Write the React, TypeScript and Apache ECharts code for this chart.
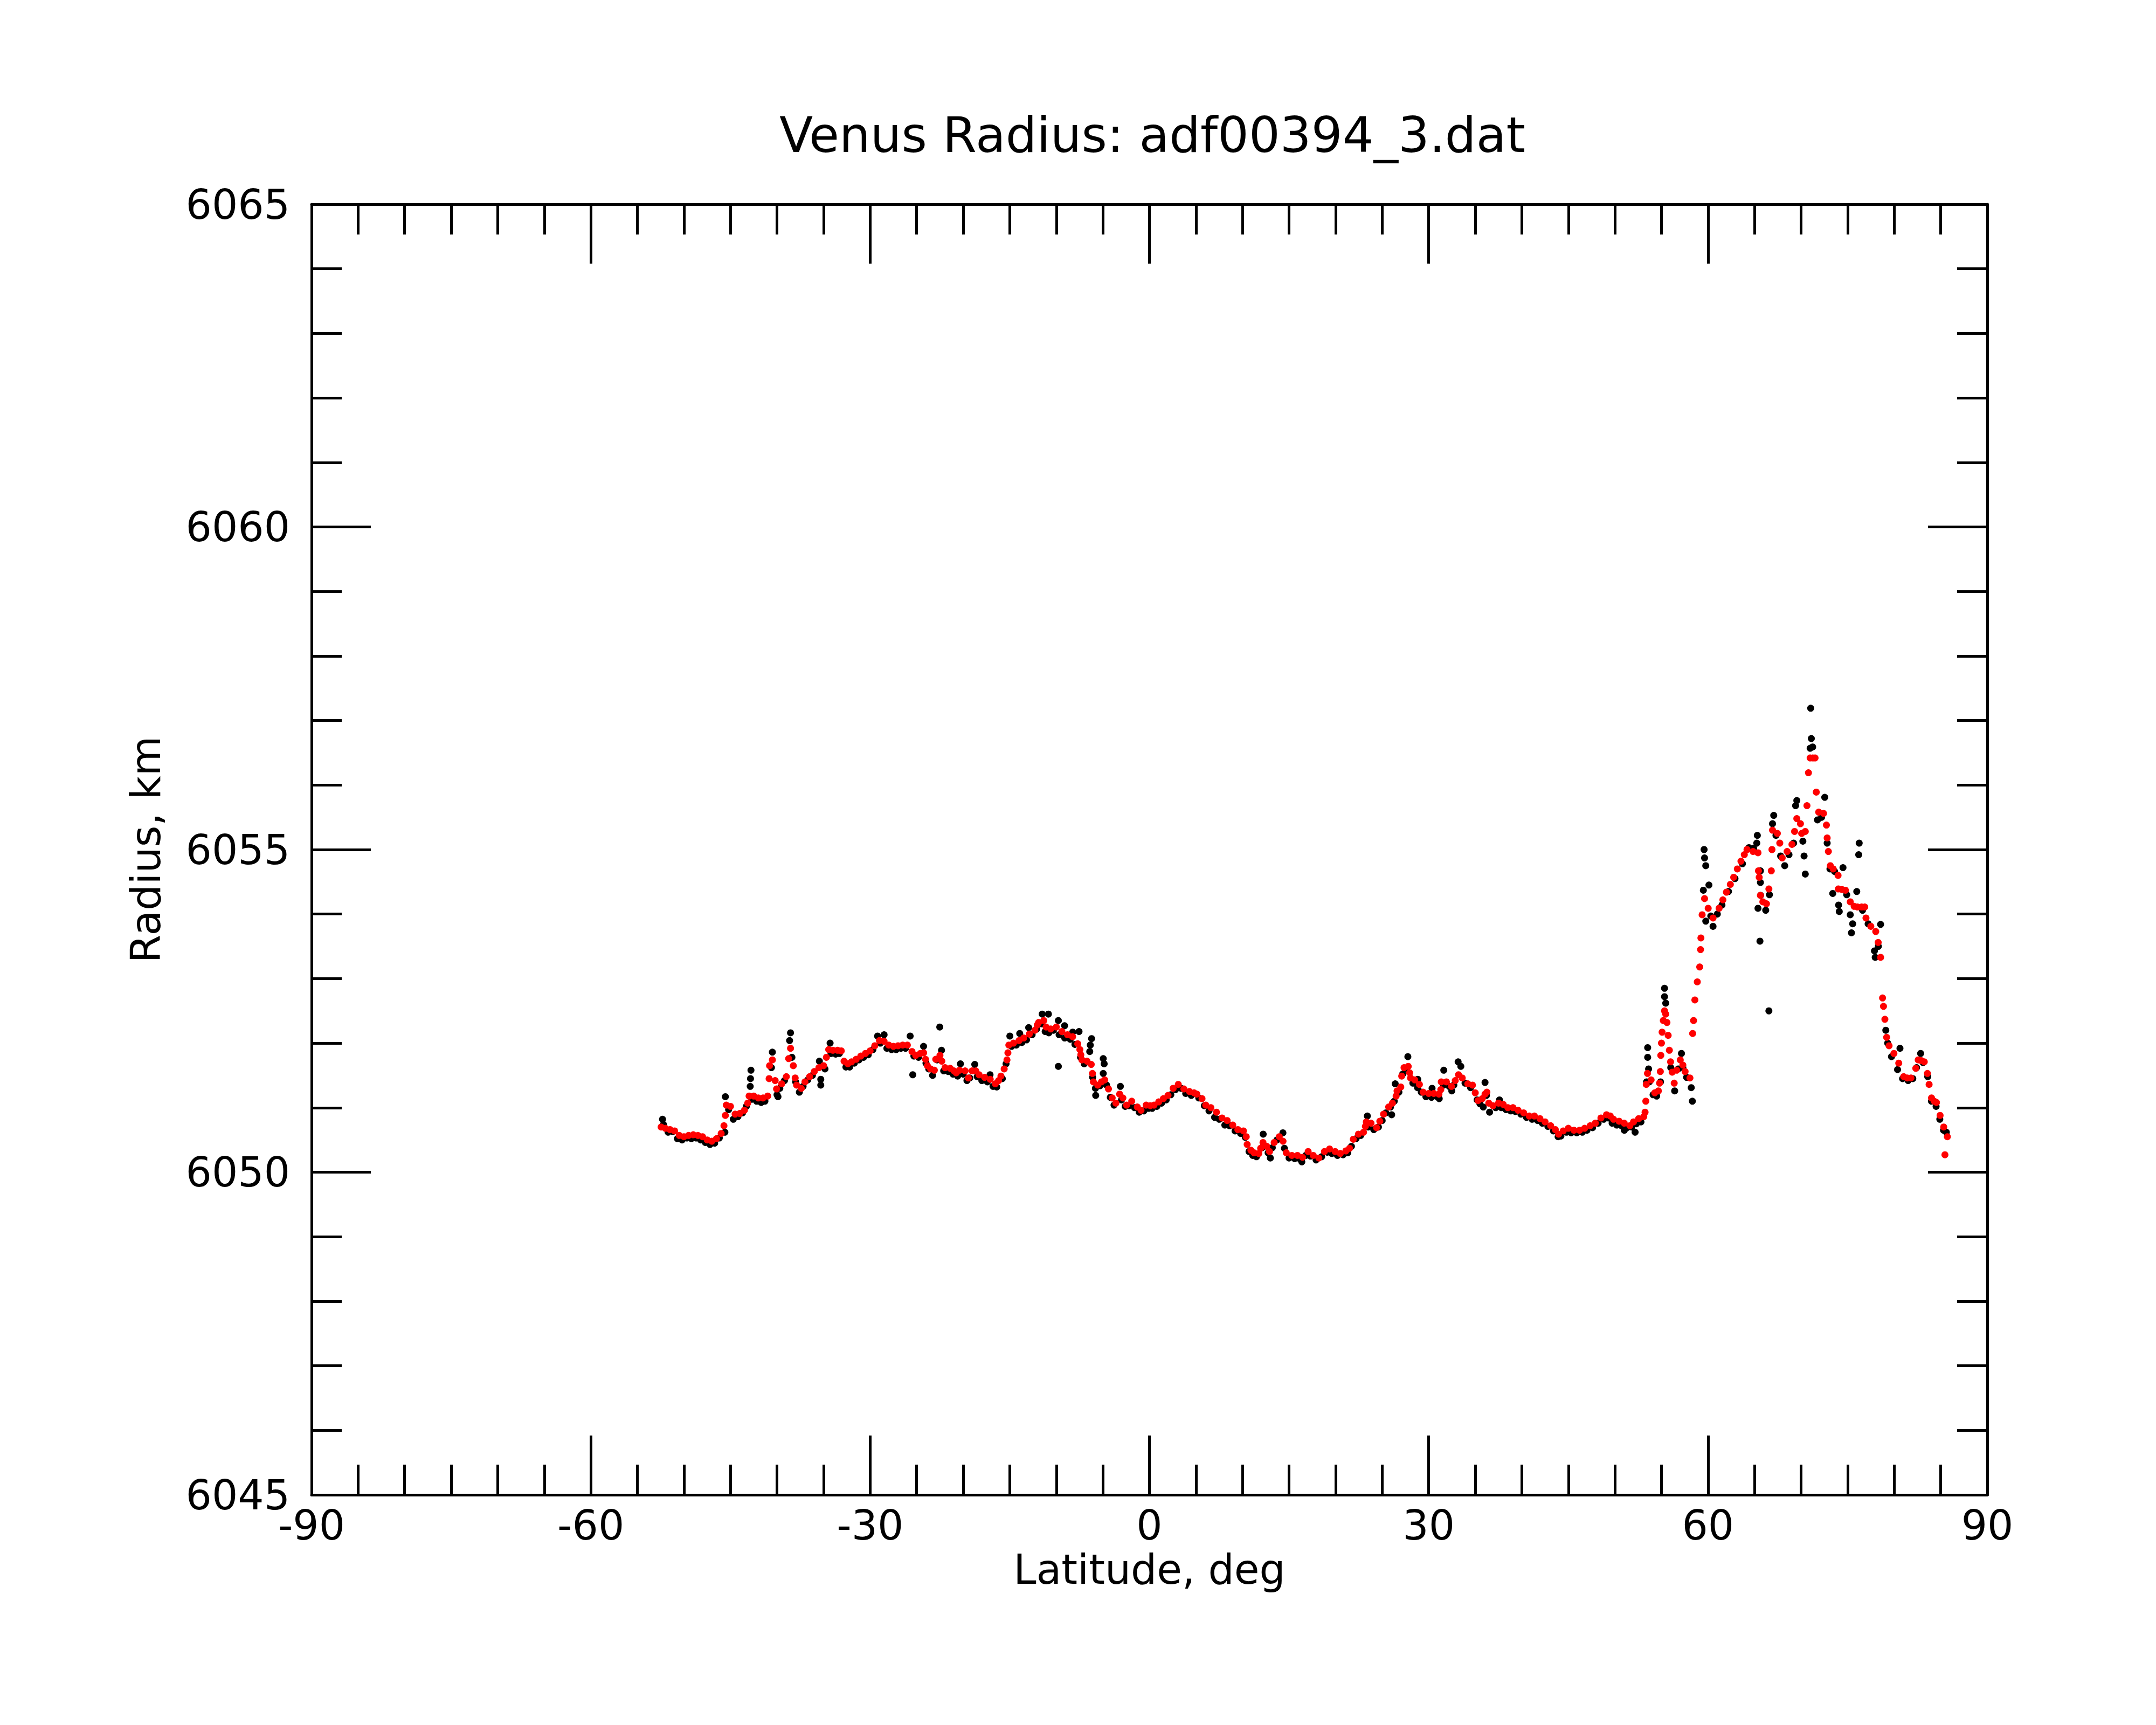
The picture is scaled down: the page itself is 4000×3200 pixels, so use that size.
import React, { useEffect, useRef } from "react";
import * as echarts from "echarts";

// ---- Data: [latitude (deg), radius (km)] ----
const TITLE = "Venus Radius: adf00394_3.dat";
const X_NAME = "Latitude, deg";
const Y_NAME = "Radius, km";
const X_TICKS = [-90, -60, -30, 0, 30, 60, 90];
const Y_TICKS = [6045, 6050, 6055, 6060, 6065];

const RED_SOUTH: number[][] = [
  [-52.45, 6050.70], [-52.0, 6050.68], [-51.5, 6050.66], [-51.0, 6050.64], [-50.5, 6050.57], [-50.0, 6050.55],
  [-49.5, 6050.57], [-49.0, 6050.58], [-48.5, 6050.57], [-48.0, 6050.55], [-47.5, 6050.50], [-47.0, 6050.48],
  [-46.5, 6050.52], [-46.0, 6050.60], [-45.7, 6050.72], [-45.55, 6050.88], [-45.45, 6051.04], [-45.0, 6051.02],
  [-44.5, 6050.90], [-44.0, 6050.91], [-43.5, 6050.96], [-43.15, 6051.07], [-43.0, 6051.18], [-42.5, 6051.18],
  [-42.0, 6051.15], [-41.5, 6051.15], [-41.0, 6051.18], [-40.85, 6051.45], [-40.8, 6051.65], [-40.5, 6051.74],
  [-40.2, 6051.42], [-40.05, 6051.29], [-39.5, 6051.37], [-39.0, 6051.48], [-38.75, 6051.76], [-38.55, 6051.92],
  [-38.25, 6051.65], [-38.05, 6051.46], [-37.9, 6051.35], [-37.4, 6051.30], [-37.0, 6051.40], [-36.5, 6051.48],
  [-36.0, 6051.56], [-35.5, 6051.62], [-35.0, 6051.65], [-34.7, 6051.78], [-34.45, 6051.90], [-34.0, 6051.89],
  [-33.5, 6051.89], [-33.1, 6051.88], [-32.8, 6051.72], [-32.4, 6051.68], [-32.0, 6051.71], [-31.5, 6051.75],
  [-31.0, 6051.80], [-30.5, 6051.84], [-30.0, 6051.88], [-29.5, 6051.96], [-29.0, 6052.04], [-28.5, 6052.03],
  [-28.0, 6051.97], [-27.5, 6051.95], [-27.0, 6051.96], [-26.5, 6051.97], [-26.0, 6051.97], [-25.5, 6051.87],
  [-25.1, 6051.81], [-24.6, 6051.84], [-24.25, 6051.85], [-24.05, 6051.75], [-23.85, 6051.65], [-23.5, 6051.60],
  [-23.1, 6051.58], [-22.95, 6051.75], [-22.5, 6051.81], [-22.3, 6051.72], [-21.95, 6051.62], [-21.4, 6051.61],
  [-21.0, 6051.57], [-20.75, 6051.54], [-20.4, 6051.58], [-19.8, 6051.57], [-19.45, 6051.46], [-19.05, 6051.57],
  [-18.65, 6051.57], [-18.3, 6051.51], [-17.7, 6051.47], [-17.1, 6051.44], [-16.55, 6051.37], [-16.2, 6051.42],
  [-15.95, 6051.49], [-15.6, 6051.60], [-15.3, 6051.74], [-15.2, 6051.85], [-15.1, 6051.97], [-14.6, 6052.00],
  [-14.0, 6052.04], [-13.5, 6052.08], [-12.9, 6052.14], [-12.3, 6052.20], [-12.05, 6052.28], [-11.9, 6052.32],
  [-11.35, 6052.35], [-11.1, 6052.25], [-10.6, 6052.22], [-10.0, 6052.25], [-9.4, 6052.18], [-8.8, 6052.13],
  [-8.25, 6052.10], [-7.7, 6051.99], [-7.47, 6051.90], [-7.37, 6051.82], [-7.25, 6051.74], [-6.7, 6051.72],
  [-6.25, 6051.67], [-6.12, 6051.53], [-6.02, 6051.40], [-5.55, 6051.35], [-5.15, 6051.40], [-4.8, 6051.43],
  [-4.4, 6051.29], [-4.0, 6051.15], [-3.6, 6051.07], [-3.2, 6051.21], [-2.85, 6051.15], [-2.45, 6051.04],
  [-1.9, 6051.10], [-1.3, 6051.01], [-0.9, 6050.96], [-0.35, 6051.04],
];

const RED_MID: number[][] = [
  [0.1, 6051.03], [0.5, 6051.04], [1.0, 6051.09], [1.5, 6051.14], [2.0, 6051.19], [2.55, 6051.30], [3.1, 6051.36],
  [3.7, 6051.29], [4.3, 6051.25], [4.8, 6051.23], [5.1, 6051.21], [5.65, 6051.14], [6.05, 6051.04], [6.6, 6051.00],
  [7.2, 6050.93], [7.8, 6050.84], [8.35, 6050.80], [8.95, 6050.73], [9.5, 6050.66], [10.1, 6050.64], [10.4, 6050.55],
  [10.5, 6050.43], [10.9, 6050.34], [11.25, 6050.30], [11.75, 6050.29], [11.95, 6050.37], [12.2, 6050.46],
  [12.6, 6050.40], [12.9, 6050.32], [13.4, 6050.46], [13.95, 6050.55], [14.35, 6050.48], [14.7, 6050.30],
  [15.3, 6050.26], [15.9, 6050.26], [16.45, 6050.23], [17.05, 6050.32], [17.6, 6050.26], [18.2, 6050.22],
  [18.8, 6050.32], [19.35, 6050.36], [19.95, 6050.32], [20.5, 6050.29], [21.1, 6050.33], [21.5, 6050.37],
  [21.9, 6050.51], [22.45, 6050.59], [23.0, 6050.62], [23.2, 6050.71], [23.3, 6050.78], [23.8, 6050.76],
  [24.4, 6050.69], [24.75, 6050.79], [25.15, 6050.90], [25.7, 6051.01], [26.1, 6051.07], [26.5, 6051.18],
  [26.6, 6051.26], [27.0, 6051.32], [27.1, 6051.49], [27.35, 6051.62], [27.8, 6051.64], [27.95, 6051.54],
  [28.05, 6051.46], [28.5, 6051.43], [29.0, 6051.36], [29.4, 6051.24], [30.0, 6051.22], [30.55, 6051.22],
  [31.1, 6051.21], [31.3, 6051.28], [31.35, 6051.40], [31.9, 6051.40], [32.45, 6051.33], [32.85, 6051.42],
  [33.2, 6051.51], [33.6, 6051.46], [34.2, 6051.37], [34.7, 6051.35], [35.0, 6051.23], [35.3, 6051.11],
  [35.75, 6051.14], [36.05, 6051.21], [36.25, 6051.24], [36.45, 6051.07], [36.9, 6051.03], [37.5, 6051.07],
  [38.0, 6051.05], [38.5, 6051.00], [39.05, 6051.00], [39.6, 6050.96], [40.2, 6050.92], [40.8, 6050.87],
  [41.35, 6050.87], [41.95, 6050.83], [42.5, 6050.78], [43.1, 6050.72], [43.6, 6050.66], [43.95, 6050.59],
  [44.45, 6050.64], [45.0, 6050.68], [45.6, 6050.65], [46.2, 6050.65], [46.75, 6050.68], [47.35, 6050.72],
  [47.9, 6050.76], [48.5, 6050.84], [49.1, 6050.89], [49.5, 6050.87], [49.85, 6050.82], [50.45, 6050.79],
  [51.0, 6050.76], [51.6, 6050.72], [52.0, 6050.78], [52.55, 6050.83], [53.1, 6050.86],
];

const RED_NORTH: number[][] = [
  [53.24, 6050.93], [53.32, 6051.10], [53.37, 6051.36], [53.5, 6051.53], [53.89, 6051.43], [54.28, 6051.23],
  [54.67, 6051.26], [54.8, 6051.38], [54.88, 6051.56], [54.93, 6051.81], [55.0, 6052.0], [55.07, 6052.17],
  [55.2, 6052.35], [55.33, 6052.50], [55.46, 6052.45], [55.59, 6052.32], [55.72, 6052.12], [55.85, 6051.89],
  [55.98, 6051.71], [56.15, 6051.55], [56.37, 6051.38], [56.63, 6051.58], [57.02, 6051.74], [57.3, 6051.66],
  [57.54, 6051.56], [58.06, 6051.46], [58.35, 6052.15], [58.45, 6052.35], [58.59, 6052.67], [58.85, 6052.95],
  [59.11, 6053.18], [59.2, 6053.45], [59.24, 6053.63], [59.37, 6053.99], [59.63, 6054.24], [60.02, 6054.09],
  [60.54, 6053.94], [61.19, 6054.09], [61.6, 6054.22], [61.98, 6054.34], [62.4, 6054.46], [62.76, 6054.57],
  [63.15, 6054.70], [63.54, 6054.82], [63.9, 6054.92], [64.19, 6055.0], [64.84, 6054.97], [65.37, 6054.95],
  [65.42, 6054.67], [65.5, 6054.57], [65.63, 6054.29], [65.89, 6054.19], [66.28, 6054.16], [66.54, 6054.39],
  [66.8, 6054.67], [66.87, 6055.0], [66.93, 6055.30], [67.45, 6055.25], [67.71, 6055.10], [67.97, 6054.87],
  [68.5, 6054.97], [69.02, 6055.08], [69.3, 6055.28], [69.54, 6055.48], [69.93, 6055.40], [70.06, 6055.25],
  [70.45, 6055.28], [70.63, 6055.68], [70.79, 6056.19], [70.97, 6056.42], [71.25, 6056.42], [71.5, 6056.42],
  [71.63, 6055.89], [71.89, 6055.58], [72.41, 6055.56], [72.72, 6055.38], [72.8, 6055.18], [72.93, 6054.97],
  [73.14, 6054.75], [73.45, 6054.70], [73.97, 6054.60], [74.0, 6054.39], [74.4, 6054.38], [74.76, 6054.37],
  [75.28, 6054.19], [75.7, 6054.12], [76.06, 6054.11], [76.5, 6054.11], [76.84, 6054.11], [76.97, 6053.94],
  [77.49, 6053.81], [78.02, 6053.73], [78.28, 6053.56], [78.54, 6053.33], [78.75, 6052.70], [78.85, 6052.57],
  [79.0, 6052.37], [79.19, 6052.09], [79.45, 6051.96], [79.97, 6051.84], [80.49, 6051.69], [81.02, 6051.48],
  [81.4, 6051.46], [81.8, 6051.46], [82.32, 6051.61], [82.58, 6051.74], [82.9, 6051.73], [83.23, 6051.71],
  [83.57, 6051.53], [83.75, 6051.36], [84.01, 6051.15], [84.3, 6051.10], [84.54, 6051.08], [84.93, 6050.88],
  [85.32, 6050.70], [85.71, 6050.55], [85.45, 6050.27],
];

const BLACK_SOUTH: number[][] = [
  [-52.3, 6050.82], [-52.2, 6050.74], [-51.7, 6050.62], [-51.2, 6050.63], [-50.7, 6050.52], [-50.2, 6050.50],
  [-49.7, 6050.53], [-49.2, 6050.52], [-48.7, 6050.53], [-48.2, 6050.50], [-47.7, 6050.46], [-47.2, 6050.43],
  [-46.7, 6050.45], [-46.2, 6050.53], [-45.6, 6050.62], [-45.55, 6051.17], [-45.2, 6050.97], [-44.7, 6050.82],
  [-44.2, 6050.86], [-43.7, 6050.92], [-43.3, 6051.02], [-42.88, 6051.33], [-42.85, 6051.45], [-42.8, 6051.58],
  [-42.7, 6051.13], [-42.2, 6051.10], [-41.7, 6051.08], [-41.3, 6051.10], [-40.5, 6051.86], [-40.6, 6051.62],
  [-40.0, 6051.20], [-39.9, 6051.17], [-39.7, 6051.30], [-39.2, 6051.42], [-38.65, 6052.04], [-38.55, 6052.16],
  [-38.4, 6051.78], [-38.0, 6051.40], [-37.6, 6051.24], [-37.2, 6051.33], [-36.7, 6051.43], [-36.2, 6051.50],
  [-35.45, 6051.72], [-35.3, 6051.44], [-35.3, 6051.35], [-34.85, 6051.60], [-34.3, 6052.00], [-34.2, 6051.84],
  [-33.7, 6051.83], [-33.3, 6051.84], [-32.6, 6051.63], [-32.2, 6051.63], [-31.7, 6051.69], [-31.2, 6051.74],
  [-30.7, 6051.78], [-30.2, 6051.82], [-29.7, 6051.90], [-29.2, 6052.11], [-28.9, 6052.00], [-28.5, 6052.13],
  [-28.2, 6051.92], [-27.7, 6051.90], [-27.2, 6051.90], [-26.7, 6051.92], [-26.2, 6051.92], [-25.7, 6052.11],
  [-25.42, 6051.51], [-25.3, 6051.80], [-24.8, 6051.78], [-24.26, 6051.95], [-24.0, 6051.69], [-23.7, 6051.60],
  [-23.29, 6051.50], [-22.8, 6051.74], [-22.52, 6052.25], [-22.33, 6051.89], [-22.1, 6051.57], [-21.6, 6051.56],
  [-21.1, 6051.52], [-20.6, 6051.49], [-20.3, 6051.68], [-20.0, 6051.52], [-19.6, 6051.42], [-19.3, 6051.46],
  [-18.76, 6051.67], [-18.5, 6051.48], [-18.0, 6051.42], [-17.4, 6051.40], [-17.12, 6051.51], [-16.8, 6051.33],
  [-16.4, 6051.32], [-15.8, 6051.45], [-15.4, 6051.68], [-14.99, 6052.11], [-14.8, 6051.95], [-14.3, 6051.97],
  [-13.93, 6052.15], [-13.7, 6052.01], [-13.2, 6052.05], [-12.97, 6052.24], [-12.6, 6052.13], [-12.1, 6052.22],
  [-11.52, 6052.45], [-11.6, 6052.30], [-11.2, 6052.18], [-10.85, 6052.45], [-10.8, 6052.16], [-10.3, 6052.20],
  [-9.78, 6052.35], [-9.78, 6051.64], [-9.7, 6052.13], [-9.11, 6052.27], [-9.1, 6052.08], [-8.5, 6052.06],
  [-8.24, 6052.17], [-8.0, 6051.98], [-7.56, 6052.18], [-7.4, 6051.78], [-7.0, 6051.68], [-6.41, 6051.87],
  [-6.35, 6051.97], [-6.21, 6052.07], [-6.1, 6051.47], [-5.77, 6051.19], [-5.8, 6051.30], [-5.3, 6051.34],
  [-4.96, 6051.76], [-4.86, 6051.68], [-4.96, 6051.53], [-4.6, 6051.35], [-4.2, 6051.16], [-3.8, 6051.04],
  [-3.12, 6051.33], [-3.0, 6051.12], [-2.6, 6051.02], [-2.2, 6051.03], [-1.6, 6051.00], [-1.1, 6050.93],
  [-0.6, 6050.95],
];

const BLACK_MID: number[][] = [
  [-0.1, 6050.99], [0.3, 6050.99], [0.8, 6051.02], [1.3, 6051.07], [1.8, 6051.12], [2.3, 6051.20], [2.8, 6051.28],
  [3.4, 6051.30], [3.9, 6051.22], [4.5, 6051.19], [5.3, 6051.15], [5.9, 6051.03], [6.4, 6050.95], [7.0, 6050.85],
  [7.5, 6050.82], [8.1, 6050.73], [8.6, 6050.72], [9.2, 6050.64], [9.8, 6050.60], [10.3, 6050.54], [10.7, 6050.32],
  [11.1, 6050.26], [11.5, 6050.24], [12.22, 6050.59], [12.1, 6050.38], [12.99, 6050.22], [12.75, 6050.30],
  [13.2, 6050.38], [13.7, 6050.50], [14.34, 6050.61], [14.5, 6050.37], [15.0, 6050.22], [15.6, 6050.21],
  [16.37, 6050.16], [16.2, 6050.20], [16.8, 6050.26], [17.3, 6050.25], [17.9, 6050.19], [18.5, 6050.24],
  [19.1, 6050.31], [19.6, 6050.29], [20.2, 6050.26], [20.8, 6050.27], [21.3, 6050.30], [21.7, 6050.40],
  [22.2, 6050.52], [22.7, 6050.57], [23.41, 6050.87], [23.5, 6050.70], [24.1, 6050.66], [24.6, 6050.70],
  [25.0, 6050.80], [25.4, 6050.92], [26.02, 6050.89], [25.9, 6051.01], [26.4, 6051.37], [26.3, 6051.10],
  [26.8, 6051.24], [27.2, 6051.52], [27.76, 6051.79], [27.6, 6051.60], [28.3, 6051.38], [28.82, 6051.44],
  [28.8, 6051.31], [29.2, 6051.24], [29.7, 6051.17], [30.36, 6051.30], [30.3, 6051.16], [30.9, 6051.17],
  [31.13, 6051.14], [31.62, 6051.58], [31.6, 6051.35], [32.2, 6051.33], [32.48, 6051.26], [32.7, 6051.35],
  [33.16, 6051.71], [33.45, 6051.64], [33.9, 6051.38], [34.5, 6051.31], [35.2, 6051.12], [35.5, 6051.06],
  [35.86, 6051.01], [36.05, 6051.39], [36.2, 6051.19], [36.54, 6050.93], [37.2, 6051.00], [37.6, 6051.12],
  [37.8, 6051.00], [38.3, 6050.97], [38.8, 6050.95], [39.3, 6050.94], [39.9, 6050.90], [40.5, 6050.85],
  [41.1, 6050.82], [41.7, 6050.80], [42.2, 6050.76], [42.8, 6050.71], [43.4, 6050.64], [43.9, 6050.55],
  [44.2, 6050.56], [44.8, 6050.62], [45.3, 6050.61], [45.9, 6050.61], [46.5, 6050.62], [47.0, 6050.65],
  [47.6, 6050.69], [48.2, 6050.76], [48.8, 6050.82], [49.3, 6050.84], [49.7, 6050.76], [50.2, 6050.73],
  [50.7, 6050.72], [51.01, 6050.65], [51.3, 6050.69], [52.17, 6050.62], [51.8, 6050.70], [52.3, 6050.75],
  [52.8, 6050.78],
];

const BLACK_NORTH: number[][] = [
  [53.52, 6051.93], [53.52, 6051.78], [53.62, 6051.60], [53.4, 6051.40], [53.7, 6051.40], [54.1, 6051.20],
  [54.49, 6051.18], [54.9, 6051.40], [55.33, 6052.85], [55.33, 6052.72], [55.46, 6052.62], [56.0, 6051.62],
  [56.42, 6051.26], [56.8, 6051.60], [57.15, 6051.84], [57.3, 6051.62], [57.7, 6051.47], [58.2, 6051.31],
  [58.32, 6051.10], [59.58, 6055.0], [59.63, 6054.87], [59.76, 6054.75], [59.5, 6054.37], [60.1, 6054.45],
  [59.76, 6053.89], [60.3, 6053.97], [60.54, 6053.81], [61.0, 6054.00], [61.5, 6054.14], [62.2, 6054.35],
  [62.9, 6054.55], [63.7, 6054.78], [64.4, 6055.03], [64.9, 6055.02], [65.24, 6055.10], [65.3, 6055.22],
  [65.63, 6054.67], [65.63, 6054.49], [65.65, 6054.29], [65.37, 6054.09], [65.58, 6053.58], [66.2, 6054.06],
  [66.54, 6052.50], [66.6, 6054.30], [66.93, 6055.40], [67.06, 6055.53], [67.3, 6055.22], [67.8, 6054.90],
  [68.24, 6054.75], [68.7, 6054.92], [69.2, 6055.10], [69.41, 6055.68], [69.54, 6055.76], [70.19, 6055.13],
  [70.32, 6054.90], [70.45, 6054.62], [70.97, 6056.57], [71.03, 6057.19], [71.1, 6056.72], [71.24, 6056.59],
  [71.76, 6055.46], [72.2, 6055.50], [72.54, 6055.81], [72.8, 6055.10], [73.1, 6054.70], [73.4, 6054.32],
  [73.6, 6054.66], [74.03, 6054.14], [74.1, 6054.04], [74.5, 6054.72], [74.9, 6054.30], [75.28, 6053.99],
  [75.41, 6053.71], [75.54, 6053.85], [75.98, 6054.35], [76.19, 6054.92], [76.24, 6055.10], [76.6, 6054.06],
  [77.2, 6053.85], [77.88, 6053.43], [77.96, 6053.33], [78.54, 6053.84], [78.3, 6053.50], [79.1, 6052.20],
  [79.3, 6052.00], [79.71, 6051.79], [80.36, 6051.59], [80.62, 6051.92], [80.9, 6051.45], [81.5, 6051.42],
  [82.0, 6051.45], [82.4, 6051.62], [82.84, 6051.84], [83.1, 6051.70], [83.6, 6051.48], [84.0, 6051.10],
  [84.5, 6051.02], [84.9, 6050.82], [85.3, 6050.65], [85.6, 6050.62],
];

const FONT = "DejaVu Sans";

export default function App() {
  const ref = useRef<HTMLDivElement>(null);

  useEffect(() => {
    document.body.style.margin = "0";
    if (!ref.current) return;
    const chart = echarts.init(ref.current, undefined, { renderer: "svg" });

    const axisLine = { show: true, onZero: false, lineStyle: { color: "#000", width: 5 } };
    const majorTick = { show: true, inside: true, length: 110, lineStyle: { color: "#000", width: 5 } };
    const xMinor = { show: true, splitNumber: 6, length: 56, lineStyle: { color: "#000", width: 5 } };
    const yMinor = { show: true, splitNumber: 5, length: 56, lineStyle: { color: "#000", width: 5 } };
    const xBase = {
      type: "value",
      min: X_TICKS[0],
      max: X_TICKS[X_TICKS.length - 1],
      interval: 30,
      axisLine,
      axisTick: majorTick,
      minorTick: xMinor,
      splitLine: { show: false },
      minorSplitLine: { show: false },
    };
    const yBase = {
      type: "value",
      min: Y_TICKS[0],
      max: Y_TICKS[Y_TICKS.length - 1],
      interval: 5,
      axisLine,
      axisTick: majorTick,
      minorTick: yMinor,
      splitLine: { show: false },
      minorSplitLine: { show: false },
    };

    chart.setOption({
      animation: false,
      backgroundColor: "#fff",
      textStyle: { fontFamily: FONT },
      title: {
        text: TITLE,
        left: 2133,
        top: 200,
        textAlign: "center",
        textStyle: { fontFamily: FONT, fontSize: 91, fontWeight: "normal", color: "#000" },
      },
      grid: { left: 578, right: 313, top: 379, bottom: 427, containLabel: false },
      xAxis: [
        {
          ...xBase,
          position: "bottom",
          name: X_NAME,
          nameLocation: "middle",
          nameGap: 100,
          nameTextStyle: { fontFamily: FONT, fontSize: 76, color: "#000" },
          axisLabel: { show: true, margin: 18, fontFamily: FONT, fontSize: 76, color: "#000", formatter: (v: number) => String(v) },
        },
        { ...xBase, position: "top", axisLabel: { show: false } },
      ],
      yAxis: [
        {
          ...yBase,
          position: "left",
          name: Y_NAME,
          nameLocation: "middle",
          nameRotate: 90,
          nameGap: 270,
          nameTextStyle: { fontFamily: FONT, fontSize: 76, color: "#000" },
          axisLabel: { show: true, margin: 40, fontFamily: FONT, fontSize: 76, color: "#000", formatter: (v: number) => String(v) },
        },
        { ...yBase, position: "right", axisLabel: { show: false } },
      ],
      series: [
        {
          name: "raw",
          type: "scatter",
          xAxisIndex: 0,
          yAxisIndex: 0,
          symbol: "circle",
          symbolSize: 13,
          itemStyle: { color: "#000000", opacity: 1 },
          data: [...BLACK_SOUTH, ...BLACK_MID, ...BLACK_NORTH],
          z: 2,
        },
        {
          name: "smoothed",
          type: "scatter",
          xAxisIndex: 0,
          yAxisIndex: 0,
          symbol: "circle",
          symbolSize: 13,
          itemStyle: { color: "#ff0000", opacity: 1 },
          data: [...RED_SOUTH, ...RED_MID, ...RED_NORTH],
          z: 3,
        },
      ],
    });

    return () => chart.dispose();
  }, []);

  return <div ref={ref} style={{ width: 4000, height: 3200, background: "#fff" }} />;
}
